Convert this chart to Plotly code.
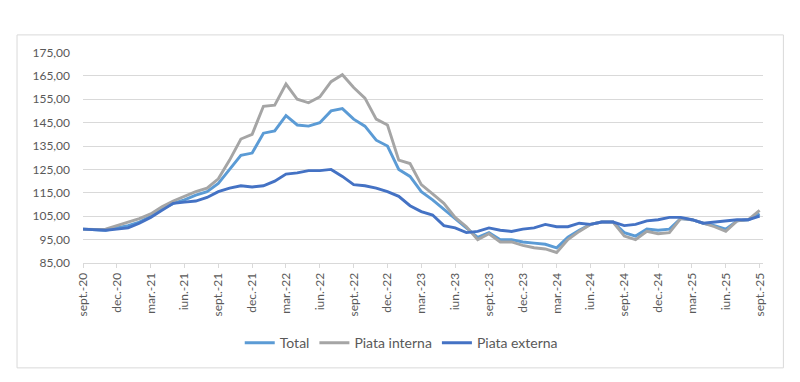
import plotly.graph_objects as go

months = ["sept.-20","oct.-20","nov.-20","dec.-20","ian.-21","feb.-21","mar.-21","apr.-21","mai-21","iun.-21","iul.-21","aug.-21",
          "sept.-21","oct.-21","nov.-21","dec.-21","ian.-22","feb.-22","mar.-22","apr.-22","mai-22","iun.-22","iul.-22","aug.-22",
          "sept.-22","oct.-22","nov.-22","dec.-22","ian.-23","feb.-23","mar.-23","apr.-23","mai-23","iun.-23","iul.-23","aug.-23",
          "sept.-23","oct.-23","nov.-23","dec.-23","ian.-24","feb.-24","mar.-24","apr.-24","mai-24","iun.-24","iul.-24","aug.-24",
          "sept.-24","oct.-24","nov.-24","dec.-24","ian.-25","feb.-25","mar.-25","apr.-25","mai-25","iun.-25","iul.-25","aug.-25",
          "sept.-25"]

total = [99.5, 99.3, 99.0, 100.0, 101.0, 102.5, 105.0, 108.0, 110.5, 112.0, 114.0, 115.5,
         119.0, 125.0, 131.0, 132.0, 140.5, 141.5, 148.0, 144.0, 143.5, 145.0, 150.0, 151.0,
         146.5, 143.5, 137.5, 135.0, 125.0, 122.0, 115.5, 112.0, 108.0, 104.0, 100.0, 96.0,
         98.0, 95.0, 95.0, 94.0, 93.5, 93.0, 91.5, 96.0, 99.0, 101.5, 102.5, 102.5,
         98.0, 96.5, 99.5, 99.0, 99.5, 104.0, 103.5, 102.0, 101.0, 99.5, 103.0, 103.5,
         106.0]

piata_interna = [99.5, 99.3, 99.5, 101.0, 102.5, 104.0, 106.0, 109.0, 111.5, 113.5, 115.5, 117.0,
                 121.0, 129.0, 138.0, 140.0, 152.0, 152.5, 161.5, 155.0, 153.5, 156.0, 162.5, 165.5,
                 160.0, 155.5, 146.5, 144.0, 129.0, 127.5, 118.5, 114.5, 110.5, 104.5, 100.5, 95.0,
                 97.5, 94.0, 94.0, 92.5, 91.5, 91.0, 89.5, 95.0, 98.5, 101.5, 102.5, 102.5,
                 96.5, 95.0, 98.5, 97.5, 98.0, 104.0, 103.5, 102.0, 100.5, 98.5, 103.0, 103.5,
                 107.5]

piata_externa = [99.5, 99.3, 99.0, 99.5, 100.0, 102.0, 104.5, 107.5, 110.5, 111.0, 111.5, 113.0,
                 115.5, 117.0, 118.0, 117.5, 118.0, 120.0, 123.0, 123.5, 124.5, 124.5, 125.0, 122.0,
                 118.5, 118.0, 117.0, 115.5, 113.5, 109.5, 107.0, 105.5, 101.0, 100.0, 98.0, 98.5,
                 100.0, 99.0, 98.5, 99.5, 100.0, 101.5, 100.5, 100.5, 102.0, 101.5, 102.5, 102.5,
                 101.0, 101.5, 103.0, 103.5, 104.5, 104.5, 103.5, 102.0, 102.5, 103.0, 103.5, 103.5,
                 105.0]

y_ticks = [85, 95, 105, 115, 125, 135, 145, 155, 165, 175]

x = list(range(len(months)))
tick_idx = list(range(0, len(months), 3))

fig = go.Figure()
series = [("Total", total, "#5B9BD5"),
          ("Piata interna", piata_interna, "#A5A5A5"),
          ("Piata externa", piata_externa, "#4472C4")]
for name, vals, col in series:
    fig.add_trace(go.Scatter(x=x, y=vals, name=name, mode="lines",
                             line=dict(color=col, width=2.9)))

FONT = "Lato, Roboto, sans-serif"
fig.update_layout(
    width=800, height=382,
    margin=dict(l=75, r=45, t=44, b=127, autoexpand=False),
    paper_bgcolor="white", plot_bgcolor="white",
    separators=",.",
    font=dict(family=FONT, size=12, color="#595959"),
    showlegend=True,
    legend=dict(orientation="h", x=0.468, xanchor="center", y=-0.38, yanchor="middle",
                font=dict(family=FONT, size=14, color="#595959"),
                traceorder="normal", itemwidth=30, tracegroupgap=0),
    xaxis=dict(range=[0, 60.3], tickmode="array", tickvals=tick_idx,
               ticktext=[months[i] for i in tick_idx], tickangle=-90,
               showgrid=False, showline=True, linecolor="#D9D9D9", linewidth=1,
               ticks="outside", ticklen=4, tickcolor="#D9D9D9", zeroline=False,
               automargin=False,
               tickfont=dict(family=FONT, size=12, color="#595959")),
    yaxis=dict(range=[85, 175.2], tickmode="array", tickvals=y_ticks,
               tickformat=".2f", showgrid=True, gridcolor="#D9D9D9", gridwidth=1,
               zeroline=False, showline=False, ticks="", ticklabelstandoff=12,
               automargin=False,
               tickfont=dict(family=FONT, size=12, color="#595959")),
    shapes=[dict(type="rect", xref="paper", yref="paper",
                 x0=-0.097, x1=1.03, y0=-0.497, y1=1.081,
                 line=dict(color="#D9D9D9", width=1), fillcolor="rgba(0,0,0,0)")],
)

fig.write_html("out.html")
